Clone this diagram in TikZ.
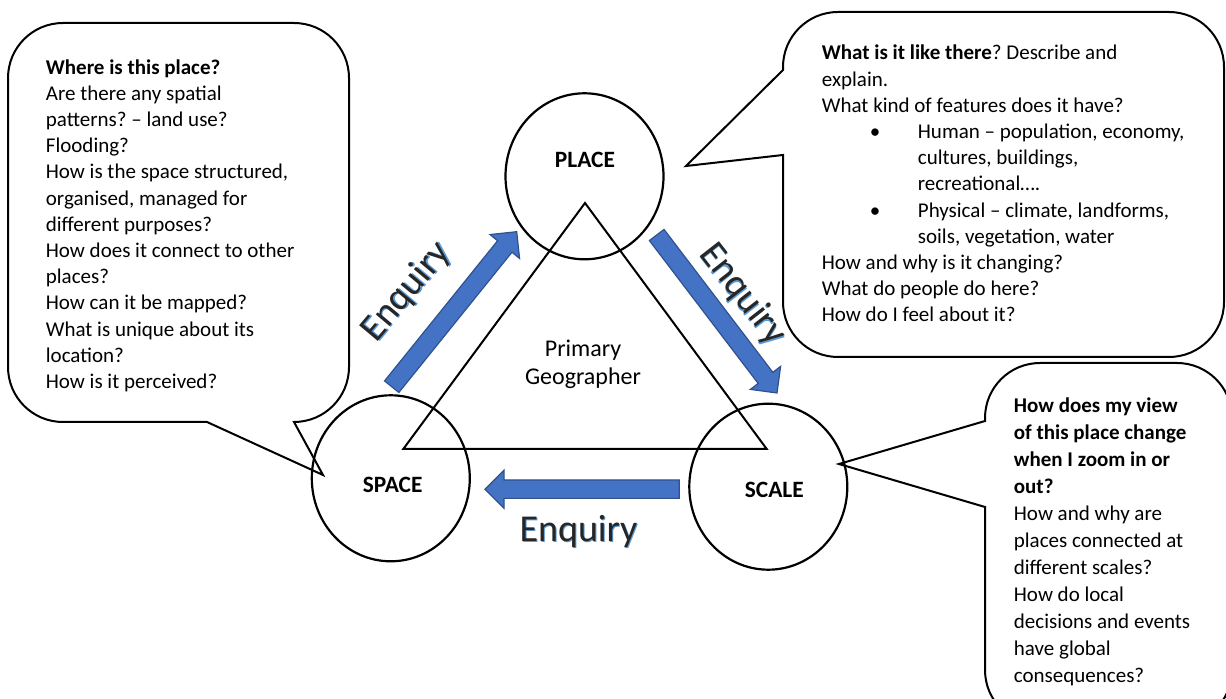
\documentclass[tikz,border=0pt]{standalone}
\usepackage{fontspec}
\setmainfont{Carlito}
\usetikzlibrary{calc,shapes.geometric}
\frenchspacing

\definecolor{arrowblue}{HTML}{4472C4}
\definecolor{arrowedge}{HTML}{2F528F}
\definecolor{glowblue}{HTML}{5B9BD5}

\tikzset{
    bubble/.style={draw, line width=1pt, fill=white, line join=miter},
    topic/.style={draw, ellipse, line width=1.1pt, minimum width=79pt, minimum height=83pt, inner sep=0pt},
    topiclabel/.style={inner sep=0pt, font=\fontsize{11.7}{14}\selectfont\bfseries},
    question/.style={anchor=north west, align=left, inner sep=0pt, font=\fontsize{10.5}{13.1}\selectfont},
    enqarrow/.style={fill=arrowblue, draw=arrowedge, line width=0.6pt, line join=miter},
    enqtext/.style={inner sep=0pt, font=\fontsize{19}{19}\selectfont, text=black!85},
}

% tail, tip
\newcommand{\enquiryarrow}[2]{%
    \coordinate (hb) at ($(#2)!9.5pt!(#1)$);
    \draw[enqarrow] ($(#1)!4.6pt!90:(#2)$) -- ($(hb)!4.6pt!90:(#2)$) -- ($(hb)!9.5pt!90:(#2)$) -- (#2)
        -- ($(hb)!9.5pt!-90:(#2)$) -- ($(hb)!4.6pt!-90:(#2)$) -- ($(#1)!4.6pt!-90:(#2)$) -- cycle;
}
% blue offset copy behind the word
\newcommand{\enquiryword}{%
    \makebox[0pt][l]{\hspace{0.5pt}\raisebox{-0.75pt}{\textcolor{glowblue}{Enquiry}}}Enquiry}

\begin{document}
\begin{tikzpicture}[x=0.5pt, y=-0.5pt]
        \useasboundingbox (0,0) rectangle (1226,699);
        \clip (0,0) rectangle (1226,699);

        \draw[bubble] (207,422) -- (63,422) arc[start angle=270, end angle=180, radius=27.5pt]
            -- (8,78) arc[start angle=180, end angle=90, radius=27.5pt]
            -- (294,23) arc[start angle=90, end angle=0, radius=27.5pt]
            -- (349,367) arc[start angle=0, end angle=-90, radius=27.5pt]
            -- (323,475) -- cycle;
        \draw[bubble] (783,155) -- (686,166) -- (783,70) -- (783,67) arc[start angle=180, end angle=90, radius=27.5pt]
            -- (1169,12) arc[start angle=90, end angle=0, radius=27.5pt]
            -- (1224,302) arc[start angle=0, end angle=-90, radius=27.5pt]
            -- (838,357) arc[start angle=270, end angle=180, radius=27.5pt] -- cycle;
        \draw[bubble] (985,507) -- (839,464) -- (985,421) -- (985,418) arc[start angle=180, end angle=90, radius=27.5pt]
            -- (1177,363) arc[start angle=90, end angle=0, radius=27.5pt]
            -- (1232,670) arc[start angle=0, end angle=-90, radius=27.5pt]
            -- (1040,725) arc[start angle=270, end angle=180, radius=27.5pt] -- cycle;

        \node[question] (spaceq) at (45.5,59) {\textbf{Where is this place?}\\
            Are there any spatial\\
            patterns? -- land use?\\
            Flooding?\\
            How is the space structured,\\
            organised, managed for\\
            different purposes?\\
            How does it connect to other\\
            places?\\
            How can it be mapped?\\
            What is unique about its\\
            location?\\
            How is it perceived?};
        \node[question] (placeq) at (821.5,44.8) {\textbf{What is it like there}? Describe and\\
            explain.\\
            What kind of features does it have?\\
            \hspace*{24pt}\makebox[24pt][l]{\textbullet}Human -- population, economy,\\
            \hspace*{48pt}cultures, buildings,\\
            \hspace*{48pt}recreational….\\
            \hspace*{24pt}\makebox[24pt][l]{\textbullet}Physical -- climate, landforms,\\
            \hspace*{48pt}soils, vegetation, water\\
            How and why is it changing?\\
            What do people do here?\\
            How do I feel about it?};
        \node[question, font=\fontsize{10.5}{13.5}\selectfont] (scaleq) at (1013.5,397.3) {\textbf{How does my view}\\
            \textbf{of this place change}\\
            \textbf{when I zoom in or}\\
            \textbf{out?}\\
            How and why are\\
            places connected at\\
            different scales?\\
            How do local\\
            decisions and events\\
            have global\\
            consequences?};

        \coordinate (apex) at (585,203);
        \coordinate (left) at (403.3,449);
        \coordinate (right) at (766.7,449);
        \draw[line width=1pt] (apex) -- (right) -- (left) -- cycle;
        \node[align=center, inner sep=0pt, font=\fontsize{12}{14}\selectfont] (geo) at (583,364) {Primary\\Geographer};

        \node[topic] (place) at (584.5,176.3) {};
        \node[topic] (space) at (390.8,478.3) {};
        \node[topic] (scale) at (768.3,486.7) {};
        \node[topiclabel] (placelabel) at (585,160) {PLACE};
        \node[topiclabel] (spacelabel) at (392.7,485) {SPACE};
        \node[topiclabel] (scalelabel) at (774.3,490) {SCALE};

        \coordinate (up1) at (391.7,386.7);
        \coordinate (up2) at (516.7,231.7);
        \coordinate (down1) at (656.7,235);
        \coordinate (down2) at (777,393);
        \coordinate (back1) at (679.3,489.2);
        \coordinate (back2) at (485,489.2);
        \enquiryarrow{up1}{up2}
        \enquiryarrow{down1}{down2}
        \enquiryarrow{back1}{back2}

        \node[enqtext, rotate=50] (enqup) at (407,292) {\enquiryword};
        \node[enqtext, rotate=-52] (enqdown) at (742.5,295) {\enquiryword};
        \node[enqtext] (enqback) at (578.5,532) {\enquiryword};
    \end{tikzpicture}
\end{document}
